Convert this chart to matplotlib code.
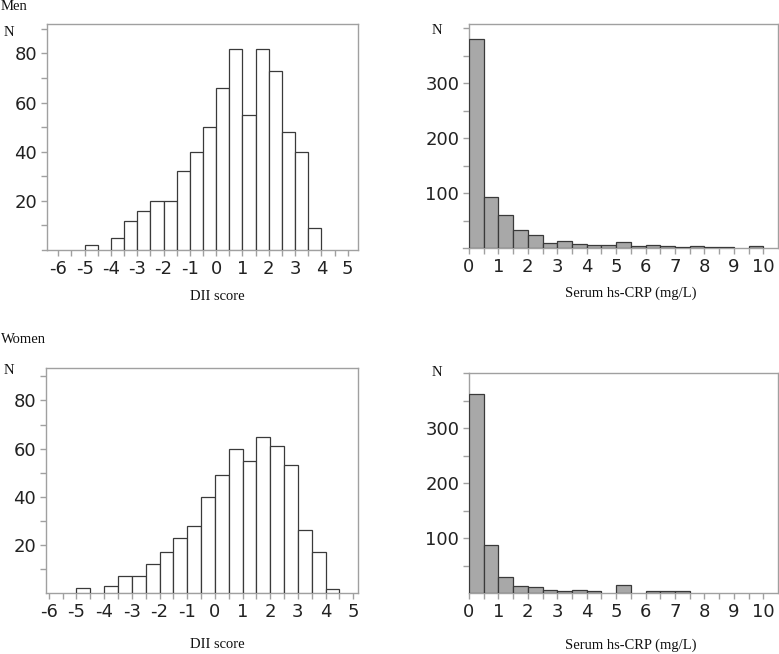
import matplotlib
matplotlib.use("Agg")
import matplotlib.pyplot as plt
import numpy as np

# ---------------- data ----------------
dii_men_left = [-5.0, -4.5, -4.0, -3.5, -3.0, -2.5, -2.0, -1.5, -1.0, -0.5,
                0.0, 0.5, 1.0, 1.5, 2.0, 2.5, 3.0, 3.5]
dii_men_counts = [2, 0, 5, 12, 16, 20, 20, 32, 40, 50,
                  66, 82, 55, 82, 73, 48, 40, 9]

dii_women_left = [-5.0, -4.5, -4.0, -3.5, -3.0, -2.5, -2.0, -1.5, -1.0, -0.5,
                  0.0, 0.5, 1.0, 1.5, 2.0, 2.5, 3.0, 3.5, 4.0]
dii_women_counts = [2, 0, 3, 7, 7, 12, 17, 23, 28, 40,
                    49, 60, 55, 65, 61, 53, 26, 17, 1.5]

crp_left = [0.0, 0.5, 1.0, 1.5, 2.0, 2.5, 3.0, 3.5, 4.0, 4.5,
            5.0, 5.5, 6.0, 6.5, 7.0, 7.5, 8.0, 8.5, 9.0, 9.5]
crp_men_counts = [380, 92, 60, 33, 23, 10, 12, 7, 6, 6,
                  11, 3, 5.5, 4, 2.5, 4, 2, 2.5, 0, 4]
crp_women_counts = [362, 88, 30, 12, 11, 6, 3, 6, 3, 0,
                    14, 0, 3, 3, 3, 0, 0, 0, 0, 0]

dii_ticks = [-6, -5, -4, -3, -2, -1, 0, 1, 2, 3, 4, 5]
crp_ticks = [0, 1, 2, 3, 4, 5, 6, 7, 8, 9, 10]
dii_yticks = [20, 40, 60, 80]
crp_yticks = [100, 200, 300]

# ---------------- figure ----------------
W, H = 779, 654
fig = plt.figure(figsize=(W / 100, H / 100), dpi=100)

def px_axes(l, t, r, b):
    return fig.add_axes([l / W, 1 - b / H, (r - l) / W, (b - t) / H])

SPINE = "#a0a0a0"
EDGE = "#3a3a3a"
SERIF = ["Liberation Serif", "DejaVu Serif"]
TICKFONT = 13

def style(ax, xlim, ylim, xt, yt, yminor, ext):
    ax.set_xlim(*xlim)
    ax.set_ylim(*ylim)
    for s in ax.spines.values():
        s.set_color(SPINE)
        s.set_linewidth(1.0)
    ax.set_xticks(xt)
    ax.set_xticklabels([str(v) for v in xt])
    ax.set_xticks([v + 0.5 for v in xt[:-1]], minor=True)
    ax.set_yticks(yt)
    ax.set_yticklabels([str(v) for v in yt])
    ax.set_yticks(yminor, minor=True)
    ax.tick_params(which="both", direction="out", color=SPINE, length=4, width=1.0)
    ax.tick_params(which="major", labelsize=TICKFONT, labelcolor="#222222", pad=3)
    ax.tick_params(axis="x", which="both", top=False)
    ax.tick_params(axis="y", which="both", right=False)
    # x axis line extends a little to the left of the y axis
    ax.plot([-ext, 0], [0, 0], transform=ax.transAxes, color=SPINE, lw=1.0, clip_on=False)

def bars(ax, left, counts, fc):
    l = [x for x, c in zip(left, counts) if c > 0]
    c = [c for c in counts if c > 0]
    ax.bar(l, c, width=0.5, align="edge", facecolor=fc, edgecolor=EDGE, linewidth=0.9, zorder=3)

# top-left: men DII
ax1 = px_axes(47, 24, 358, 250)
bars(ax1, dii_men_left, dii_men_counts, "white")
style(ax1, (-6.43, 5.39), (0, 92), dii_ticks, dii_yticks, [10, 30, 50, 70, 90], 0.016)

# top-right: men CRP
ax2 = px_axes(469, 24, 778, 248)
bars(ax2, crp_left, crp_men_counts, "#a8a8a8")
style(ax2, (0, 10.5), (0, 408), crp_ticks, crp_yticks, [50, 150, 250, 350, 400], 0.02)

# bottom-left: women DII
ax3 = px_axes(46, 368, 358, 593)
bars(ax3, dii_women_left, dii_women_counts, "white")
style(ax3, (-6.1, 5.17), (0, 93.5), dii_ticks, dii_yticks, [10, 30, 50, 70, 90], 0.0)

# bottom-right: women CRP
ax4 = px_axes(469, 373, 778, 593)
bars(ax4, crp_left, crp_women_counts, "#a8a8a8")
style(ax4, (0, 10.5), (0, 400), crp_ticks, crp_yticks, [50, 150, 250, 350, 400], 0.0)

def ftext(x, y, s, **kw):
    fig.text(x / W, 1 - y / H, s, family=SERIF, color="#111111", **kw)

ftext(1, 7, "Men", fontsize=10.5, ha="left", va="center")
ftext(4, 32, "N", fontsize=10.5, ha="left", va="center")
ftext(217, 296, "DII score", fontsize=10.5, ha="center", va="center")
ftext(437, 30, "N", fontsize=10.5, ha="center", va="center")
ftext(631, 293, "Serum hs-CRP (mg/L)", fontsize=10.5, ha="center", va="center")

ftext(1, 340, "Women", fontsize=10.5, ha="left", va="center")
ftext(4, 370, "N", fontsize=10.5, ha="left", va="center")
ftext(217, 645, "DII score", fontsize=10.5, ha="center", va="center")
ftext(437, 372, "N", fontsize=10.5, ha="center", va="center")
ftext(631, 645, "Serum hs-CRP (mg/L)", fontsize=10.5, ha="center", va="center")

fig.savefig("out.png", dpi=100)
